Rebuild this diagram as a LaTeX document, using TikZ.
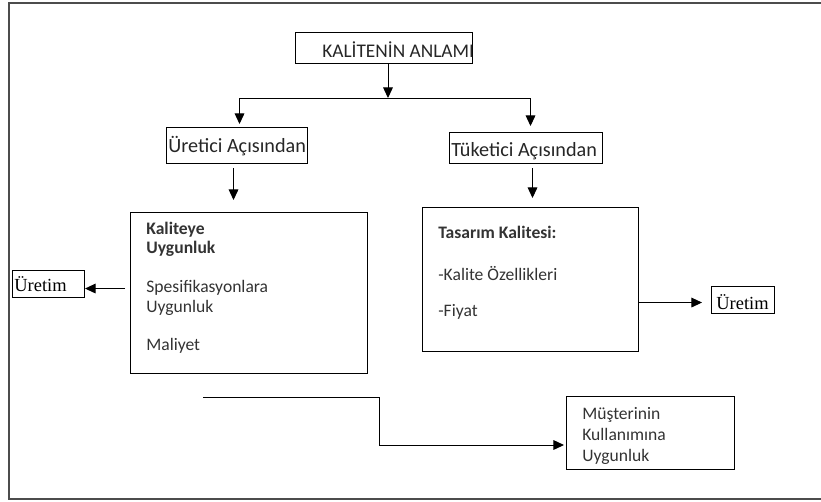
\documentclass[tikz,border=0pt]{standalone}
\usepackage{fontspec}
\setmainfont{Carlito}
\newfontfamily\timesfont{Liberation Serif}
\usetikzlibrary{arrows.meta}

\tikzset{
  box/.style={draw, line width=0.6pt, inner sep=0pt, anchor=north west},
  txt/.style={inner sep=0pt, anchor=base west, text=black!80, font=\fontsize{10}{12}\selectfont},
  lbl/.style={inner sep=0pt, anchor=base west, text=black!85, font=\fontsize{11.5}{13}\selectfont},
  tm/.style={inner sep=0pt, anchor=base west, font=\timesfont\fontsize{10.5}{12}\selectfont},
  tip/.style={-{Triangle[length=6pt,width=5.5pt]}, line width=0.55pt}
}

\begin{document}
\begin{tikzpicture}[x=0.02cm,y=-0.02cm]
\useasboundingbox (0,0) rectangle (821,501);
% frame
\draw [line width=1.1pt, black!70] (821,3)--(9,3)--(9,499)--(821,499);

% boxes
\node [box, minimum width=3.54cm, minimum height=0.62cm] (kal) at (295,32) {};
\node [lbl, font=\fontsize{11}{13}\selectfont] at (322,57) {KALİTENİN ANLAMI};
\node [box, minimum width=2.82cm, minimum height=0.72cm] (ure) at (166,127) {};
\node [lbl] at (168,152) {Üretici Açısından};
\node [box, minimum width=3.06cm, minimum height=0.62cm] (tuk) at (449,132) {};
\node [lbl] at (451,156) {Tüketici Açısından};

\node [box, minimum width=4.74cm, minimum height=3.22cm] (kalb) at (130,212) {};
\node [txt] at (146,234) {\bfseries Kaliteye};
\node [txt] at (146,253) {\bfseries Uygunluk};
\node [txt] at (146,292) {Spesifikasyonlara};
\node [txt] at (146,312) {Uygunluk};
\node [txt] at (146,350) {Maliyet};

\node [box, minimum width=4.32cm, minimum height=2.88cm] (tas) at (422,207) {};
\node [txt] at (438,238) {\bfseries Tasarım Kalitesi:};
\node [txt] at (438,280) {-Kalite Özellikleri};
\node [txt] at (438,316) {-Fiyat};

\node [box, minimum width=1.44cm, minimum height=0.54cm] (uretL) at (12,270) {};
\node [tm] at (14,291) {Üretim};
\node [box, minimum width=1.26cm, minimum height=0.54cm] (uretR) at (711,286) {};
\node [tm] at (716,309) {Üretim};

\node [box, minimum width=3.36cm, minimum height=1.46cm] (mus) at (566,396) {};
\node [txt] at (582,419) {Müşterinin};
\node [txt] at (582,440) {Kullanımına};
\node [txt] at (582,461) {Uygunluk};

% connectors
\coordinate (split) at (388,98);
\draw [tip] (kal.south -| split)--(split);
\draw [line width=0.55pt] ([xshift=2.5*0.02cm]ure.north |- split)--([xshift=4.5*0.02cm]tuk.north |- split);
\draw [tip, shorten >=3*0.02cm] ([xshift=2.5*0.02cm]ure.north |- split)--([xshift=2.5*0.02cm]ure.north);
\draw [tip, shorten >=6*0.02cm] ([xshift=4.5*0.02cm]tuk.north |- split)--([xshift=4.5*0.02cm]tuk.north);
\draw [tip, shorten <=4*0.02cm, shorten >=12*0.02cm] ([xshift=-3.5*0.02cm]ure.south)--([xshift=-3.5*0.02cm]ure.south |- kalb.north);
\draw [tip, shorten <=4*0.02cm, shorten >=9*0.02cm] ([xshift=6.5*0.02cm]tuk.south)--([xshift=6.5*0.02cm]tuk.south |- tas.north);
\draw [tip, shorten <=5*0.02cm] ([yshift=-4.5*0.02cm]kalb.west |- uretL.east)--([yshift=-4.5*0.02cm]uretL.east);
\draw [tip, shorten >=9*0.02cm] ([yshift=-2.5*0.02cm]tas.east |- uretR.west)--([yshift=-2.5*0.02cm]uretR.west);
\coordinate (bstart) at (203,397);
\coordinate (bbend) at (379,445);
\draw [tip, shorten >=2*0.02cm] (bstart) -| (bbend)--(bbend -| mus.west);
\end{tikzpicture}
\end{document}
